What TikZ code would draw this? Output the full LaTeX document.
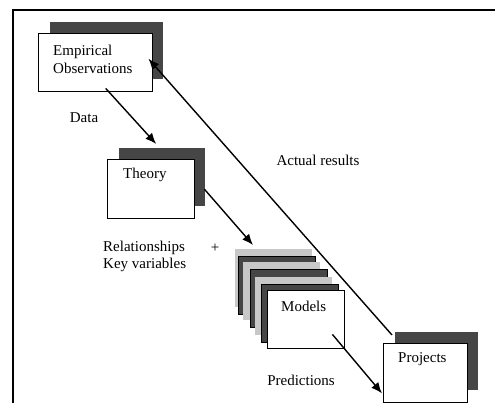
\documentclass[tikz,border=0pt]{standalone}
\usepackage{fontspec}
\setmainfont{Liberation Serif}
\usetikzlibrary{arrows.meta,calc}
\definecolor{darkg}{HTML}{464646}
\definecolor{lightg}{HTML}{C8C8C8}
\begin{document}
\begin{tikzpicture}[x=1pt,y=-1pt,
  front/.style={draw=black,line width=1.4pt,fill=white,anchor=north west,inner sep=0pt},
  shadowbox/.style={fill=darkg,anchor=north west,inner sep=0pt},
  darklayer/.style={draw=black,line width=0.6pt,fill=darkg,anchor=north west,inner sep=0pt,minimum width=77pt,minimum height=58pt},
  lightlayer/.style={fill=lightg,anchor=north west,inner sep=0pt,minimum width=77pt,minimum height=58pt},
  lbl/.style={font=\fontsize{15}{18}\selectfont,inner sep=0pt},
  conn/.style={line width=1.4pt,-{Latex[length=11pt,width=9pt]}}]
\useasboundingbox (0,0) rectangle (495,403);
\fill[white] (0,0) rectangle (495,403);
% frame
\draw[line width=1.5pt] (13,403) -- (13,10) -- (495,10);
% Empirical Observations
\node[shadowbox,minimum width=113pt,minimum height=57pt] (emps) at (50,22) {};
\node[front,minimum width=114pt,minimum height=58pt] (emp) at (38,33) {};
\node[lbl,anchor=west,align=left] (empt) at ([shift={(15,26)}]emp.north west) {Empirical\\Observations};
% Theory
\node[shadowbox,minimum width=86pt,minimum height=58pt] (thrs) at (119,148) {};
\node[front,minimum width=87pt,minimum height=59pt] (thr) at (107,159) {};
\node[lbl,anchor=west] (thrt) at ([shift={(16,16)}]thr.north west) {Theory};
% Models stack
\node[lightlayer] (m1) at (235,249) {};
\node[darklayer] (m2) at (238,256) {};
\node[lightlayer] (m3) at (243,262) {};
\node[darklayer] (m4) at (250,269) {};
\node[lightlayer] (m5) at (255,277) {};
\node[darklayer] (m6) at (261,284) {};
\node[front,minimum width=77pt,minimum height=58pt] (mod) at (267,290) {};
\node[lbl,anchor=west] (modt) at ([shift={(14,16)}]mod.north west) {Models};
% Projects
\node[shadowbox,minimum width=83pt,minimum height=58pt] (projs) at (395,332) {};
\node[front,minimum width=84pt,minimum height=59pt] (proj) at (383,343) {};
\node[lbl,anchor=west] (projt) at ([shift={(15,16)}]proj.north west) {Projects};
% labels
\node[lbl] (data) at (84,118) {Data};
\node[lbl,anchor=west,align=left,font=\fontsize{15}{17}\selectfont] (rel) at (103,256.5) {Relationships\\Key variables};
\node[lbl] (plus) at (215,248) {+};
\node[lbl] (act) at (318,160) {Actual results};
\node[lbl] (pred) at (301,380) {Predictions};
% connectors
\draw[conn] ([shift={(10,-4)}]emp.south) -- ([shift={(5,-15)}]thr.north);
\draw[conn] ([shift={(9,0)}]thr.east) -- ([shift={(18,-4)}]m1.north west);
\draw[conn] ([shift={(-13,-15)}]mod.south east) -- ([shift={(-1,-10)}]proj.south west);
\draw[conn] ([shift={(9,-8)}]proj.north west) -- ([shift={(-5,-4)}]emp.east);
\end{tikzpicture}
\end{document}
